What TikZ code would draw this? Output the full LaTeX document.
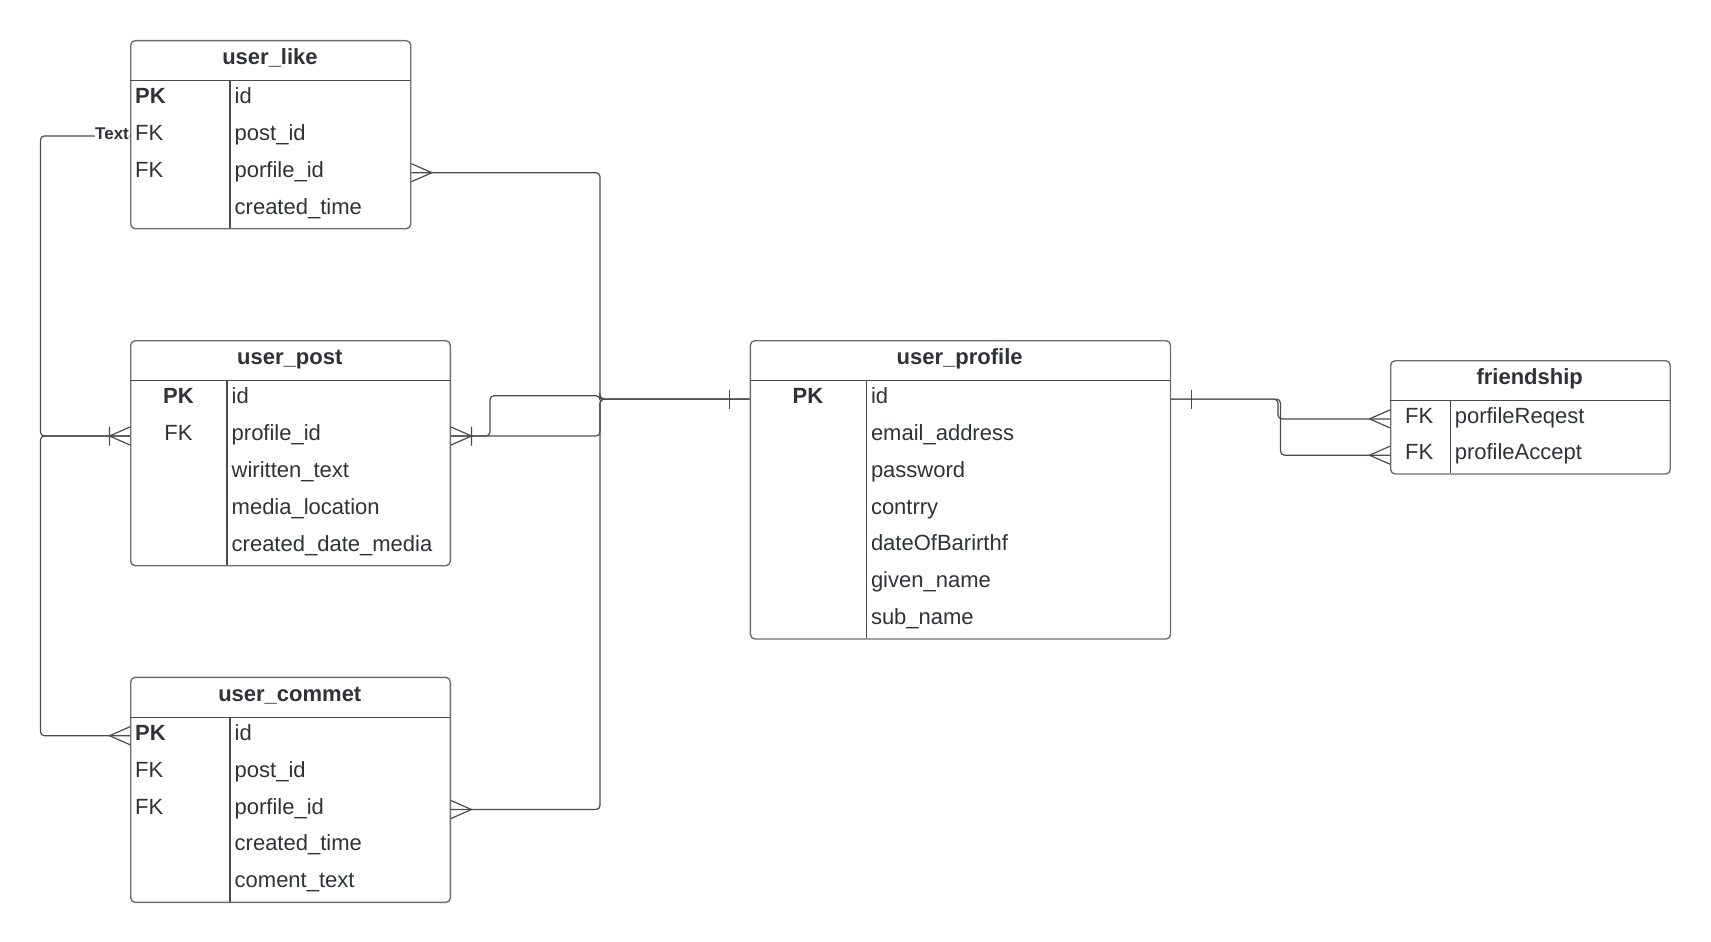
\documentclass[tikz,border=0pt]{standalone}
\usepackage{fontspec}
\setmainfont{Liberation Sans}
\usetikzlibrary{calc}
\definecolor{ink}{HTML}{2F3338}
\definecolor{wire}{HTML}{484C52}
\definecolor{frame}{HTML}{6E6E6E}

\begin{document}
\begin{tikzpicture}[x=1pt,y=-1pt,
  tbl/.style={draw=frame, line width=1.4pt, rounded corners=4.5pt, inner sep=0pt, anchor=north west, fill=white},
  rule/.style={draw=wire, line width=1.2pt},
  ttl/.style={font=\bfseries\fontsize{22}{26}\selectfont, text=ink, anchor=base, inner sep=0pt},
  cell/.style={font=\fontsize{22}{26}\selectfont, text=ink, inner sep=0pt, text height=14.5pt, text depth=5.5pt, anchor=west},
  key/.style={cell, font=\bfseries\fontsize{22}{26}\selectfont},
  keyc/.style={key, anchor=center},
  fkc/.style={cell, anchor=center},
  conn/.style={draw=wire, line width=1.2pt, rounded corners=4pt},
  lbl/.style={font=\bfseries\fontsize{17}{19}\selectfont, text=ink, fill=white, inner sep=0.5pt, anchor=base east, yshift=-3.4pt},
  tip/.style={draw=wire, line width=1.2pt},
  crow/.pic={\draw[tip] (-20.5,0) -- (0,9) (-20.5,0) -- (0,-9);},
  crowbar/.pic={\draw[tip] (-20.5,0) -- (0,9) (-20.5,0) -- (0,-9) (-20.5,-9.5) -- (-20.5,9.5);},
  onebar/.pic={\draw[tip] (-20.5,-9.5) -- (-20.5,9.5);},
]
\useasboundingbox (0,0) rectangle (1711,942);

% ---------- user_like ----------
\node[tbl, minimum width=280pt, minimum height=188pt] (like) at (130,40) {};
\draw[rule] (130,80.7) -- (410,80.7) (230,80.7) -- (230,228);
\node[ttl] (likeT) at (270,64.5) {user\_like};
\node[key]  (likeK1) at (135,99.1)  {PK};
\node[cell] (likeK2) at (135,135.9) {FK};
\node[cell] (likeK3) at (135,172.7) {FK};
\node[cell] (likeF1) at (234.5,99.1)  {id};
\node[cell] (likeF2) at (234.5,135.9) {post\_id};
\node[cell] (likeF3) at (234.5,172.7) {porfile\_id};
\node[cell] (likeF4) at (234.5,209.5) {created\_time};

% ---------- user_post ----------
\node[tbl, minimum width=319.6pt, minimum height=225pt] (post) at (130,340) {};
\draw[rule] (130,380.7) -- (449.6,380.7) (227,380.7) -- (227,565);
\node[ttl] (postT) at (289.8,364.5) {user\_post};
\node[keyc] (postK1) at (178.5,399.1) {PK};
\node[fkc]  (postK2) at (178.5,436.0) {FK};
\node[cell] (postF1) at (231.5,399.1) {id};
\node[cell] (postF2) at (231.5,436.0) {profile\_id};
\node[cell] (postF3) at (231.5,472.9) {wiritten\_text};
\node[cell] (postF4) at (231.5,509.7) {media\_location};
\node[cell] (postF5) at (231.5,546.6) {created\_date\_media};

% ---------- user_commet ----------
\node[tbl, minimum width=319.6pt, minimum height=225pt] (commet) at (130,676.7) {};
\draw[rule] (130,717.3) -- (449.6,717.3) (230,717.3) -- (230,901.7);
\node[ttl] (commetT) at (289.8,701) {user\_commet};
\node[key]  (commetK1) at (135,735.7) {PK};
\node[cell] (commetK2) at (135,772.6) {FK};
\node[cell] (commetK3) at (135,809.5) {FK};
\node[cell] (commetF1) at (234.5,735.7) {id};
\node[cell] (commetF2) at (234.5,772.6) {post\_id};
\node[cell] (commetF3) at (234.5,809.5) {porfile\_id};
\node[cell] (commetF4) at (234.5,846.4) {created\_time};
\node[cell] (commetF5) at (234.5,883.3) {coment\_text};

% ---------- user_profile ----------
\node[tbl, minimum width=420.1pt, minimum height=298.3pt] (prof) at (749.7,340) {};
\draw[rule] (749.7,380.7) -- (1169.8,380.7) (866.4,380.7) -- (866.4,638.3);
\node[ttl] (profT) at (959.7,364.5) {user\_profile};
\node[keyc] (profK1) at (808,399.1) {PK};
\node[cell] (profF1) at (870.8,399.1) {id};
\node[cell] (profF2) at (870.8,435.9) {email\_address};
\node[cell] (profF3) at (870.8,472.7) {password};
\node[cell] (profF4) at (870.8,509.5) {contrry};
\node[cell] (profF5) at (870.8,546.3) {dateOfBarirthf};
\node[cell] (profF6) at (870.8,583.1) {given\_name};
\node[cell] (profF7) at (870.8,619.9) {sub\_name};

% ---------- friendship ----------
\node[tbl, minimum width=279.5pt, minimum height=113.3pt] (fr) at (1390,360) {};
\draw[rule] (1390,400.7) -- (1669.5,400.7) (1450.2,400.7) -- (1450.2,473.3);
\node[ttl] (frT) at (1529.7,384.5) {friendship};
\node[cell] (frK1) at (1405,418.9) {FK};
\node[cell] (frK2) at (1405,455.2) {FK};
\node[cell] (frF1) at (1454.6,418.9) {porfileReqest};
\node[cell] (frF2) at (1454.6,455.2) {profileAccept};

% ---------- routing lanes ----------
\coordinate (laneL) at (40.4,0);
\coordinate (laneM) at (600,0);
\coordinate (jog)   at (490,395.7);
\coordinate (forkA) at (1278,0);
\coordinate (forkB) at (1280.5,0);

% ---------- connectors ----------
\draw[conn] (like.west |- likeF2) node[lbl] {Text} -- (laneL |- likeF2) -- (laneL |- postF2) -- (post.west |- postF2);
\draw[conn] (post.west |- postF2) -- (laneL |- postF2) -- (laneL |- commetF1) -- (commet.west |- commetF1);

\draw[conn] (like.east |- likeF3) -- (laneM |- likeF3) -- (laneM |- profF1) -- (prof.west |- profF1);
\draw[conn] (commet.east |- commetF3) -- (laneM |- commetF3) -- (laneM |- profF1) -- (prof.west |- profF1);
\draw[conn] (post.east |- postF2) -- (laneM |- postF2) -- (laneM |- profF1) -- (prof.west |- profF1);
\draw[conn] (post.east |- postF2) -- (jog |- postF2) -- (jog) -- (laneM |- jog) -- (laneM |- profF1) -- (prof.west |- profF1);

\draw[conn] (prof.east |- profF1) -- (forkA |- profF1) -- (forkA |- frF1) -- (fr.west |- frF1);
\draw[conn] (prof.east |- profF1) -- (forkB |- profF1) -- (forkB |- frF2) -- (fr.west |- frF2);

% ---------- end marks ----------
\pic at (post.west |- postF2) {crowbar};
\pic at (commet.west |- commetF1) {crow};
\pic[xscale=-1] at (like.east |- likeF3) {crow};
\pic[xscale=-1] at (post.east |- postF2) {crowbar};
\pic[xscale=-1] at (commet.east |- commetF3) {crow};
\pic at (prof.west |- profF1) {onebar};
\pic[xscale=-1] at (prof.east |- profF1) {onebar};
\pic at (fr.west |- frF1) {crow};
\pic at (fr.west |- frF2) {crow};
\end{tikzpicture}
\end{document}
